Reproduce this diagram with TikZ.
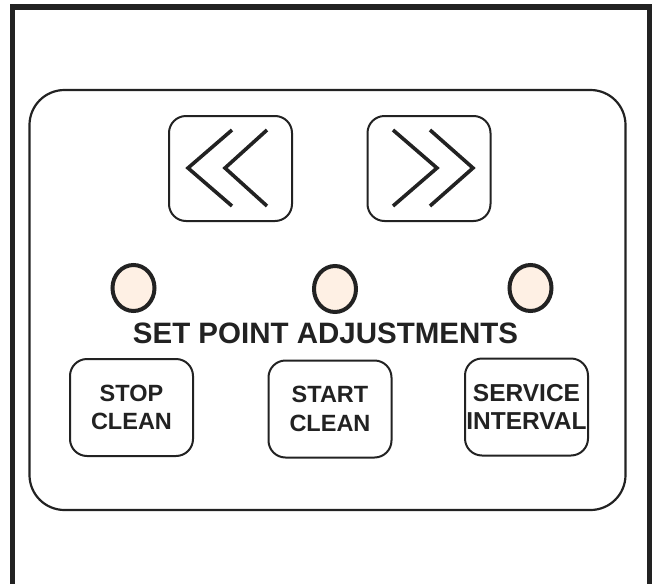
\documentclass[tikz,border=0pt]{standalone}
\usepackage{fontspec}
\setmainfont{Liberation Sans}
\usetikzlibrary{shapes.geometric}
\definecolor{edge_grey}{RGB}{34, 34, 34}
\definecolor{led_peach}{RGB}{254, 240, 228}
\tikzstyle{panel}=[rectangle,rounded corners=35pt,draw=edge_grey,line width=2.2pt,
  minimum width=596pt,minimum height=420pt]
\tikzstyle{arrowkey}=[rectangle,rounded corners=17pt,draw=edge_grey,line width=2pt,
  minimum width=123pt,minimum height=105pt]
\tikzstyle{key}=[rectangle,rounded corners=17pt,draw=edge_grey,line width=2pt,
  minimum width=123pt,minimum height=97pt,inner sep=0pt,align=center,
  font=\fontsize{23.5}{28.5}\selectfont\bfseries,text=edge_grey]
\tikzstyle{led}=[ellipse,fill=led_peach,draw=edge_grey,line width=4pt,
  minimum width=42pt,minimum height=46pt,inner sep=0pt]
\tikzstyle{chev}=[draw=edge_grey,line width=3.6pt]
\tikzstyle{none}=[]

\begin{document}
\begin{tikzpicture}[x=1pt,y=-1pt]
            \useasboundingbox (0, 0) rectangle (654, 584);
            \draw [line width=5.5pt,draw=edge_grey] (12.5, 584) -- (12.5, 7) -- (649.5, 7) -- (649.5, 584);
            \node [style=panel] (pnl) at (327.5, 300) {};
            \node [style=arrowkey] (back) at (230.5, 168.5) {};
            \node [style=arrowkey] (fwd) at (429, 168.5) {};
            \node [style=led] (led1) at (133.5, 288) {};
            \node [style=led] (led2) at (335, 289) {};
            \node [style=led] (led3) at (530.5, 288) {};
            \node [style=none,font=\fontsize{29.5}{34}\selectfont\bfseries,text=edge_grey] (title) at (325.5, 333) {SET POINT ADJUSTMENTS};
            \node [style=key] (stop) at (131.5, 407.5) {STOP\\CLEAN};
            \node [style=key] (start) at (330, 409) {START\\CLEAN};
            \node [style=key,font=\fontsize{24.5}{28.5}\selectfont\bfseries] (svc) at (526.5, 407) {SERVICE\\INTERVAL};
            \draw [style=chev] (232, 130) -- (188, 168) -- (232, 206);
            \draw [style=chev] (267, 130) -- (225, 168) -- (267, 206);
            \draw [style=chev] (393, 130) -- (437, 168) -- (393, 206);
            \draw [style=chev] (430, 130) -- (473, 168) -- (430, 206);
\end{tikzpicture}
\end{document}
